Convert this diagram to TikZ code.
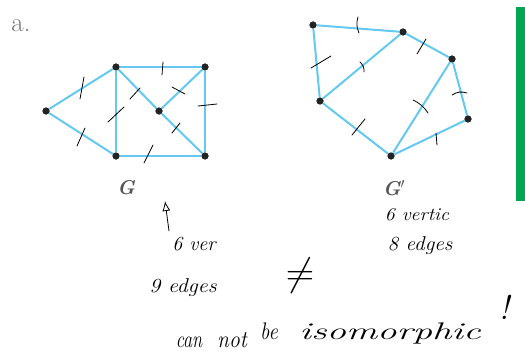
\documentclass[tikz,border=0pt]{standalone}
\usepackage{fontspec}
\usepackage{xcolor}
\definecolor{gbblue}{RGB}{100,200,240}
\definecolor{gbdot}{RGB}{35,35,35}
\definecolor{gbgreen}{RGB}{0,166,81}
\definecolor{gbgrey}{RGB}{120,120,120}
\definecolor{gbname}{RGB}{85,85,85}
\usetikzlibrary{arrows.meta}

\begin{document}
\begin{tikzpicture}[x=1pt, y=-1pt,
    vtx/.style={circle, fill=gbdot, inner sep=0pt, minimum size=7pt},
    edg/.style={draw=gbblue, line width=2pt},
    tck/.style={draw=black, line width=0.8pt, line cap=round},
    gname/.style={text=gbname, font=\fontsize{20}{24}\selectfont\bfseries\itshape},
    hand/.style={inner sep=0pt, font=\fontsize{#1}{#1}\selectfont\itshape},
    hand/.default=20
  ]
    \useasboundingbox (0,0) rectangle (525,361);

    % Label and side bar
    \node[text=gbgrey, font=\fontsize{27}{30}\selectfont, inner sep=0pt] (lbl) at (21,26) {a.};
    \fill[gbgreen] (516,7) rectangle (525,201);

    % Graph G
    \node[vtx] (g1) at (46,111)  {};
    \node[vtx] (g2) at (116,67)  {};
    \node[vtx] (g3) at (205,67)  {};
    \node[vtx] (g4) at (159,111) {};
    \node[vtx] (g5) at (116,156) {};
    \node[vtx] (g6) at (205,156) {};
    \draw[edg] (g1) -- (g2);
    \draw[edg] (g1) -- (g5);
    \draw[edg] (g2) -- (g3);
    \draw[edg] (g2) -- (g5);
    \draw[edg] (g2) -- (g4);
    \draw[edg] (g4) -- (g3);
    \draw[edg] (g4) -- (g6);
    \draw[edg] (g3) -- (g6);
    \draw[edg] (g5) -- (g6);
    \node[gname] (gG) at (126,188) {G};

    % Graph G'
    \node[vtx] (h1) at (313,25)  {};
    \node[vtx] (h2) at (403,32)  {};
    \node[vtx] (h3) at (452,59)  {};
    \node[vtx] (h4) at (468,119) {};
    \node[vtx] (h5) at (391,156) {};
    \node[vtx] (h6) at (320,101) {};
    \draw[edg] (h1) -- (h2);
    \draw[edg] (h1) -- (h6);
    \draw[edg] (h6) -- (h2);
    \draw[edg] (h2) -- (h3);
    \draw[edg] (h3) -- (h4);
    \draw[edg] (h4) -- (h5);
    \draw[edg] (h3) -- (h5);
    \draw[edg] (h6) -- (h5);
    \node[gname] (gH) at (394,188) {G$'$};

    % redraw dots over the edges
    \foreach \v in {g1,g2,g3,g4,g5,g6,h1,h2,h3,h4,h5,h6}
      \fill[gbdot] (\v) circle (3.5pt);

    % Tick marks on G
    \draw[tck] (84,77) -- (80,99);
    \draw[tck] (85,128) -- (77,146);
    \draw[tck] (163,62) -- (162,75);
    \draw[tck] (124,107) -- (108,122);
    \draw[tck] (140,88) -- (130,99);
    \draw[tck] (172,87) -- (185,94);
    \draw[tck] (198,106) -- (217,104);
    \draw[tck] (180,123) -- (172,133);
    \draw[tck] (153,145) -- (144,163);

    % Tick marks on G'
    \draw[tck] (358,17) to[bend right=20] (359,33);
    \draw[tck] (311,68) -- (331,56);
    \draw[tck] (360,62) to[bend left=25] (364,72);
    \draw[tck] (426,39) -- (417,54);
    \draw[tck] (452,95) to[bend left=25] (467,93);
    \draw[tck] (413,100) to[bend left=15] (428,113);
    \draw[tck] (436,133) -- (437,145);
    \draw[tck] (365,119) -- (352,135);

    % Handwritten notes
    \coordinate (a0) at (169,231);
    \coordinate (a1) at (165,201);
    \draw[line width=0.8pt, -{Latex[open,length=10pt,width=8pt]}] (a0) -- (a1);
    \node[hand=20] (n1) at (194,244) {6 ver};
    \node[hand=20, xscale=1.1] (n2) at (183,288) {9 edges};
    \node[hand=18, xscale=1.1] (n3) at (417,215) {6 vertic};
    \node[hand=20, xscale=1.06] (n4) at (420,246) {8 edges};
    \node[hand=20, scale=1.9] (ne) at (300,276) {$\neq$};
    \node[hand=24, xscale=0.76] (w1) at (189,342) {can};
    \node[hand=24, xscale=0.9] (w2) at (232,340) {not};
    \node[hand=24, xscale=0.86] (w3) at (269,331) {be};
    \node[hand=24, xscale=1.62] (w4) at (390,333) {isomorphic};
    \node[hand=34] (w5) at (504,307) {!};
  \end{tikzpicture}
\end{document}
